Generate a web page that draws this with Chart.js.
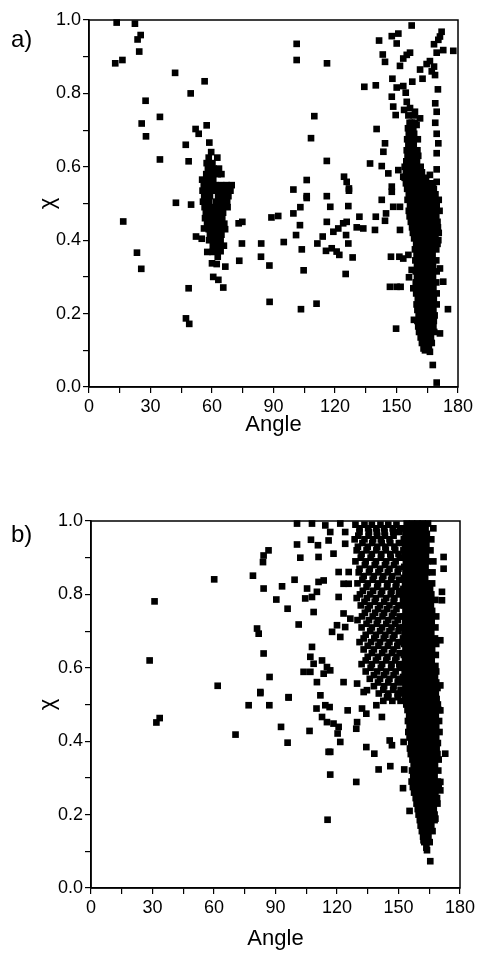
<!DOCTYPE html>
<html>
<head>
<meta charset="utf-8">
<script src="https://cdn.jsdelivr.net/npm/chart.js@4.4.1/dist/chart.umd.min.js"></script>
<style>
	body { margin: 0; background: #fff; width: 479px; height: 955px; position: relative; overflow: hidden; font-family: "Liberation Sans", Arial, sans-serif; }
	canvas { position: absolute; left: 0; }
	#chart-a { top: 0; }
	#chart-b { top: 477px; }
	.panel-label { position: absolute; left: 11px; font-size: 24px; line-height: 24px; color: #000; }
</style>
</head>
<body>
<canvas id="chart-a" width="479" height="470"></canvas>
<canvas id="chart-b" width="479" height="478"></canvas>
<div class="panel-label" style="top:27px">a)</div>
<div class="panel-label" style="top:522px">b)</div>
<script>

//axis ticks (major labels only, minor ticks in between)
var ANGLE_TICKS = [0, 30, 60, 90, 120, 150, 180];
var CHI_TICKS = [0.0, 0.2, 0.4, 0.6, 0.8, 1.0];

//panel a: isolated squares, [angle, chi]
var looseA = [
	[13.5,0.993],[22.4,0.99],[25.2,0.959],[23.7,0.947],[24.5,0.914],[12.8,0.882],[16.3,0.891],[42,0.856],[56.4,0.833],[49.6,0.80],
	[27.6,0.78],[34.6,0.736],[25.7,0.718],[57.4,0.713],[27.8,0.683],[52,0.703],[53.5,0.69],[47.2,0.66],[58.7,0.666],[34.6,0.62],[48.6,0.615],
	[42.4,0.502],[49.8,0.497],[16.7,0.451],[23.4,0.366],[25.5,0.322],[48.6,0.269],[47.3,0.187],[48.9,0.172],[52.2,0.41],[55,0.404],
	[56.1,0.432],[57.7,0.368],[60.3,0.368],[60,0.337],[62.3,0.335],[66.5,0.328],[60.6,0.30],[63.1,0.292],[65.5,0.271],
	[73,0.446],[74.8,0.45],[74.6,0.391],[73.3,0.344],[84,0.391],[83.9,0.355],[88,0.331],[89,0.462],[92.3,0.466],[88.1,0.232],[95,0.395],
	[99.7,0.473],[102.9,0.441],[103.1,0.49],[106.2,0.515],[101,0.414],[103.8,0.375],[104.7,0.318],[103.4,0.212],[111,0.227],[116,0.52],
	[117.7,0.491],[116,0.45],[114,0.41],[111.4,0.391],[115.6,0.371],[118.4,0.378],[120.8,0.369],[122.1,0.36],[119.2,0.423],[121.6,0.432],
	[124,0.446],[125.7,0.45],[126.5,0.493],[126.8,0.535],[126.5,0.391],[125.4,0.414],[128.6,0.353],[125.2,0.308],[131.9,0.464],[130.6,0.435],
	[133.8,0.432],[139.9,0.464],[139.5,0.428],[142.8,0.51],[144.9,0.473],[144.4,0.453],[148.4,0.491],[151.7,0.491],[147.7,0.532],[151.7,0.428],
	[147.3,0.355],[151.4,0.355],[153.3,0.35],[155.8,0.36],[146.8,0.273],[150.1,0.273],[152,0.273],[149.8,0.159],[157.4,0.319],[156.1,0.299],
	[158.2,0.269],[158.5,0.183],[163.9,0.10],[166.3,0.096],[167.7,0.06],[169.6,0.012],[175.1,0.212],[172.8,0.287],[171.2,0.323],[170.4,0.40],[171.2,0.146],
	[101.3,0.935],[101.3,0.891],[116.1,0.882],[109.9,0.738],[108.3,0.678],[116,0.616],[106.2,0.564],[99.7,0.538],[124.4,0.573],[125.7,0.559],
	[126.8,0.541],[106.2,0.52],[134.3,0.818],[139.9,0.822],[141.5,0.944],[147.7,0.956],[150.9,0.963],[150.1,0.936],[157.4,0.985],[143.3,0.906],
	[144.4,0.886],[153.3,0.895],[155,0.905],[156.6,0.911],[151.7,0.875],[172,0.968],[171.2,0.955],[170.4,0.946],[168.3,0.934],[169.6,0.911],
	[172.8,0.918],[177.7,0.916],[166.3,0.888],[164.7,0.88],[168.3,0.873],[167.2,0.86],[168.8,0.85],[161.5,0.865],[162.7,0.84],[148,0.84],
	[150.1,0.816],[153.3,0.82],[154.5,0.802],[157.7,0.832],[170.2,0.811],[147.7,0.791],[148.4,0.764],[149.6,0.741],[155,0.777],[153.7,0.755],
	[159,0.75],[168.9,0.773],[169.6,0.75],[168.9,0.72],[161.5,0.732],[157.4,0.72],[159.8,0.714],[140.3,0.703],[144.4,0.664],[143.6,0.641],
	[169.6,0.69],[170.4,0.664],[169.6,0.637],[137.1,0.609],[142.8,0.602],[146,0.582],[169.6,0.593],[166.3,0.578],[169.6,0.559],[168,0.538],
	[147.7,0.546],[150.9,0.591],[153.3,0.573]
];

//panel a: dense strip near 160-170 deg, one row per chi level
var stripChiA = [0.105,0.12,0.135,0.15,0.165,0.18,0.195,0.21,0.225,0.24,0.255,0.27,0.285,0.30,0.315,0.33,0.345,0.36,0.375,0.39,
	0.405,0.42,0.435,0.45,0.465,0.48,0.495,0.51,0.525,0.54,0.555,0.57,0.585,0.60,0.615,0.63,0.645,0.66,0.675,0.69,0.705,0.72,0.74,0.76];
var stripAngleA = [
	[163.2,165.8],[162.4,165,167.2],[161.8,164.3,166.8],[161,163.6,166.2,168.4],[160.6,163.2,165.8,168],
	[160.2,162.8,165.4,168.2],[160.8,163.4,166,168.6],[160.2,162.8,165.4,168],[159.8,162.4,165,167.6,169.6],[160.4,163,165.6,168.2],
	[159.6,162.2,164.8,167.4,169.6],[160.2,162.8,165.4,168],[159.4,162,164.6,167.2,169.4],[160,162.6,165.2,167.8],[159.4,162,164.6,167.2,169.6],
	[160,162.6,165.2,167.8],[159.2,161.8,164.4,167,169.4],[159.8,162.4,165,167.6],[159,161.6,164.2,166.8,169.4],[159.6,162.2,164.8,167.4,170],
	[158.6,161.2,163.8,166.4,169],[158,160.6,163.2,165.8,168.4,170.6],[157.6,160.2,162.8,165.4,168,170.2],[157,159.6,162.2,164.8,167.4,170],
	[156.4,159,161.6,164.2,166.8,169.4],[156,158.6,161.2,163.8,166.4,169,171],[156.6,159.2,161.8,164.4,167,169.6],
	[155.4,158,160.6,163.2,165.8,168.4,170.6],[156,158.6,161.2,163.8,166.4,169],[155.2,157.8,160.4,163,165.6,168.2],
	[154.6,157.2,159.8,162.4,165,167.6],[154,156.6,159.2,161.8,164.4],[154.6,157.2,159.8,162.4],[154,156.6,159.2,161.8],
	[154.8,157.4,160],[155.4,158,160.6],[155,157.6,160.2],[155.8,158.4],[155.2,157.8,160.4],[156,158.6],[155.6,158.2],[156.4,159],[155.8,158.4],[156.6]
];

//panel a: cluster near 60 deg
var clusterChiA = [0.64,0.625,0.61,0.595,0.58,0.565,0.55,0.535,0.52,0.505,0.49,0.475,0.46,0.445,0.43,0.415,0.40,0.385,0.37,0.355];
var clusterAngleA = [
	[59.6],[58.4,62.6],[57.4,60.2],[58,60.8,63.4],[57.2,60,62.8,64.6],[55.2,58,60.6],[56,58.8,61.6,64.4,67.2,69.6],
	[55.4,58.2,61,63.8,66.6,69],[56.2,59,63,65.8,68],[55.6,58.4,61.8,64.6,67.4],[56.4,59.2,62,64.8,67.6],[57,59.8,62.6,65.4],
	[56.6,59.4,62.2,65],[57.6,60.4,63.2,66],[58.4,61.2,64,66.4],[59,61.8,64.6],[58.6,61.4,64.2],[60.4,63.2,65.8],[61.4,64.2],[62.8]
];

//panel b: isolated squares, [angle, chi]
var looseB = [
	[60.1,0.841],[31,0.781],[28.6,0.62],[61.8,0.551],[31.9,0.451],[33.5,0.463],[70.5,0.418],
	[79,0.851],[84.2,0.816],[83.9,0.888],[86.6,0.92],[84.2,0.906],[90.4,0.786],[93.2,0.822],[95.9,0.761],[99.3,0.84],[101.3,0.718],
	[100.5,0.936],[102.1,0.90],[100.5,0.993],[107.8,0.993],[107.3,0.949],[110.7,0.934],[111,0.902],[114.3,0.988],[116.7,0.97],
	[115.9,0.947],[118.3,0.911],[121.6,0.993],[124,0.97],[124,0.938],
	[105.4,0.816],[104.5,0.789],[107.8,0.793],[110.2,0.807],[113.5,0.838],[111,0.834],[108.6,0.752],
	[120.8,0.861],[125.7,0.861],[120.8,0.793],[123.2,0.829],[125.7,0.829],
	[123.2,0.748],[120,0.716],[117.6,0.698],[121.6,0.684],[124,0.711],[126.5,0.734],
	[81,0.707],[81.8,0.693],[84.2,0.639],[87.1,0.575],[82.6,0.534],[96.4,0.52],
	[107.8,0.657],[107,0.63],[108.6,0.611],[112.7,0.62],[115.1,0.602],[116.7,0.593],[113.5,0.584],[110.2,0.561],[103.7,0.589],[107,0.589],
	[123.2,0.561],[129.8,0.557],[134.6,0.539],
	[172,0.902],[172,0.87],[171.2,0.807],[171.2,0.784],[170.4,0.675],[170.4,0.552],
	[76.9,0.498],[82.6,0.531],[87,0.498],[92.7,0.439],[95.9,0.396],[96.4,0.519],[106.6,0.428],
	[111.9,0.525],[110,0.489],[114.3,0.498],[116.4,0.493],[112.7,0.466],[115.1,0.452],[118.3,0.448],[120.8,0.439],[120.3,0.421],
	[121.6,0.398],[116.7,0.371],[115.9,0.371],[116.7,0.309],[115.4,0.186],
	[125.2,0.484],[129.8,0.452],[129.4,0.434],[129.4,0.289],[132.2,0.489],[134.3,0.475],[133,0.534],[134.3,0.384],[138.2,0.366],
	[140.3,0.323],[146,0.332],[139.2,0.498],[141.9,0.466],[144.4,0.52],[145.7,0.402],[146.8,0.389],[152.8,0.323],[152.5,0.398],
	[156.6,0.421],[152.2,0.272],[155.4,0.21],
	[172.8,0.366],[170.4,0.289],[170.4,0.266],[168,0.189],[162.2,0.13],[163.9,0.103],[165.5,0.073],[170.4,0.484]
];

//panel b: dense column 152-170 deg
var stripChiB = [0.11,0.125,0.14,0.155,0.17,0.185,0.20,0.215,0.23,0.245,0.26,0.275,0.29,0.305,0.32,0.335,0.35,0.365,0.38,0.395,
	0.41,0.425,0.44,0.455,0.47,0.485,0.50,0.515,0.53,0.545,0.56,0.575,0.59,0.605,0.62,0.635,0.65,0.665,0.68,0.695,
	0.71,0.725,0.74,0.755,0.77,0.785,0.80,0.815,0.83,0.845,0.86,0.875,0.89,0.905,0.92,0.935,0.95,0.965,0.98,0.993];
var stripAngleB = [
	[163.6],[162.6,165.2],[162,164.6],[161.4,164,166.6],[160.8,163.4,166],[160.4,163,165.6,167.6],[159.8,162.4,165,167.6],
	[159.4,162,164.6,167.2],[158.8,161.4,164,166.6,169],[158.4,161,163.6,166.2,168.8],[157.6,160.2,162.8,165.4,168],
	[157,159.6,162.2,164.8,167.4,169.6],[156.4,159,161.6,164.2,166.8,169.2],[157.2,159.8,162.4,165,167.6],
	[156.6,159.2,161.8,164.4,167,169.4],[157.4,160,162.6,165.2,167.8],[156.8,159.4,162,164.6,167.2,169.6],
	[156,158.6,161.2,163.8,166.4,169],[155.6,158.2,160.8,163.4,166,168.6],[156.2,158.8,161.4,164,166.6,169.2],
	[155.4,158,160.6,163.2,165.8,168.4],[154.8,157.4,160,162.6,165.2,167.8,170],[155.4,158,160.6,163.2,165.8,168.4],
	[154.6,157.2,159.8,162.4,165,167.6,169.8],[155.2,157.8,160.4,163,165.6,168.2],[154.4,157,159.6,162.2,164.8,167.4,169.6],
	[153.8,156.4,159,161.6,164.2,166.8,169.2],[153.2,155.8,158.4,161,163.6,166.2,168.6],[152.6,155.2,157.8,160.4,163,165.6,168.2],
	[153.4,156,158.6,161.2,163.8,166.4,169],[152.8,155.4,158,160.6,163.2,165.8,168.4],[152.2,154.8,157.4,160,162.6,165.2,167.8],
	[153,155.6,158.2,160.8,163.4,166,168.4],[152.4,155,157.6,160.2,162.8,165.4,168],[153.2,155.8,158.4,161,163.6,166.2],
	[152.6,155.2,157.8,160.4,163,165.6,168.2],[153.4,156,158.6,161.2,163.8,166.4],[152.8,155.4,158,160.6,163.2,165.8,168.4],
	[152.2,154.8,157.4,160,162.6,165.2,167.8],[153,155.6,158.2,160.8,163.4,166],[152.4,155,157.6,160.2,162.8,165.4,168],
	[153.2,155.8,158.4,161,163.6,166.2],[152.6,155.2,157.8,160.4,163,165.6,168.4],[153.4,156,158.6,161.2,163.8,166.4],
	[152.8,155.4,158,160.6,163.2,165.8],[152.2,154.8,157.4,160,162.6,165.2,168],[153,155.6,158.2,160.8,163.4,166],
	[152.4,155,157.6,160.2,162.8,165.4],[153.2,155.8,158.4,161,163.6,166.4],[152.6,155.2,157.8,160.4,163],
	[153.4,156,158.6,161.2,163.8,166.6],[152.8,155.4,158,160.6,163.2],[153.6,156.2,158.8,161.4,164,167],
	[153,155.6,158.2,160.8,163.4],[152.4,155,157.6,160.2,162.8,165.6],[153.2,155.8,158.4,161,163.6],
	[152.6,155.2,157.8,160.4,163,166],[153.4,156,158.6,161.2,163.8],[152.8,155.4,158,160.6,163.2,167],[154,156.6,159.2,161.8,164.4]
];

//panel b: scattered band 128-152 deg, upper half (two interleaved sets of rows)
var bandChiB = [0.99,0.97,0.95,0.93,0.91,0.89,0.87,0.85,0.83,0.81,0.79,0.77,0.75,0.73,0.71,0.69,0.67,0.65,0.63,0.61,0.59,0.57,0.55,0.53,0.51];
var bandAngleB = [
	[129,133.4,137,141.2,145,149],[131,135.6,139.4,143.2,147.4,150.4],[128.6,133.4,137.6,141.4,145.6],[130.2,135,139.6,143.6,148],
	[132,137,141.6,146,150],[129,134,139,144,148.6],[131,136,141,145.6,150],[133,138,142.6,147],[130,135,140,144.6,149],
	[132.6,137.6,142,146.6,150.4],[129.6,134.6,139,144,148],[131.6,136,141,145.6,150],[133.6,138.6,143,147.6],
	[130,135.6,140,145,149.6],[132,137,142,146.6,150.4],[134,139,143.6,148],[131,136.6,141,145.6,150],[133,138,143,147.6],
	[135,140,144.6,149],[132,137,142,146.6,150.4],[134,139.6,144,148.6],[136,141,145.6,150],[138,143,147.6],[140.4,145,149.6],[142.6,147,151]
];
var bandChiB2 = [0.98,0.96,0.94,0.92,0.90,0.88,0.86,0.84,0.82,0.80,0.78,0.76,0.74,0.72,0.70,0.68,0.66,0.64,0.62,0.60,0.58,0.56,0.54,0.52];
var bandAngleB2 = [
	[131,135.2,139.2,143,147.2,150.8],[130.4,135.4,139.6,143.4,147.6],[132.4,137.2,141.8,146,150.2],[129.6,134.4,139.2,143.8,148.4],
	[131.6,136.4,141.4,146.2,150.6],[133.6,138.4,143.4,147.8],[130.6,135.6,140.2,144.8,149.6],[132.4,137.4,142,146.4,150.4],
	[134.4,139.6,144.4,148.6],[131.2,136.2,141.4,146.2,150.2],[133.4,138.4,143,147.6],[135,140,144.4,149],
	[132.2,137.4,142.2,146.8,150.6],[134.4,139.4,144,148.4],[136.2,141,145.6,150],[133,138.2,142.8,147.2],
	[135,140.2,144.8,149.4],[137,142,146.8,150.6],[134,139,144,148.4],[136.4,141.4,146.4,150.6],[138,143,147.6],[140,145,149.6],
	[142.6,147.4,151],[145,149.6]
];

//draws the closed frame round the plot area
var framePlugin = {
	id: 'frame',
	afterDraw: function( chart ) {
		var area = chart.chartArea,
			ctx = chart.ctx;
		ctx.save();
		ctx.strokeStyle = '#000';
		ctx.lineWidth = 1.5;
		ctx.strokeRect(area.left, area.top, area.right - area.left, area.bottom - area.top);
		ctx.restore();
	}
};

function addRows( points, chiRows, angleRows ) {
	for ( var r = 0; r < chiRows.length; r++ ) {
		for ( var k = 0; k < angleRows[r].length; k++ ) {
			points.push({ x: angleRows[r][k], y: chiRows[r] });
		}
	}
}

function toPoints( loose ) {
	var points = [];
	for ( var n = 0; n < loose.length; n++ ) {
		points.push({ x: loose[n][0], y: loose[n][1] });
	}
	return points;
}

function buildPanel( canvasId, points, box ) {
	var tickFont = { family: '"Liberation Sans", Arial, sans-serif', size: 18 };
	var titleFont = { family: '"Liberation Sans", Arial, sans-serif', size: 22 };

	return new Chart(document.getElementById(canvasId).getContext('2d'), {
		type: 'scatter',
		data: {
			datasets: [{
				data: points,
				pointStyle: 'rect',
				pointRadius: 4.7,
				pointBorderWidth: 0,
				backgroundColor: '#000',
				borderColor: '#000',
				clip: false
			}]
		},
		options: {
			responsive: false,
			animation: false,
			devicePixelRatio: 1,
			layout: { padding: { left: 0, top: box.top, right: box.right, bottom: 0 } },
			plugins: { legend: { display: false }, tooltip: { enabled: false } },
			scales: {
				x: {
					type: 'linear', min: 0, max: 180,
					afterFit: function( scale ) { scale.height = box.xHeight; },
					ticks: {
						stepSize: 15, autoSkip: false, maxRotation: 0, padding: 3, color: '#000', font: tickFont,
						callback: function( value ) { return ANGLE_TICKS.indexOf(value) >= 0 ? String(value) : ''; }
					},
					grid: { drawOnChartArea: false, color: '#000', tickLength: 6, lineWidth: 1.2 },
					border: { color: '#000', width: 1.5 },
					title: { display: true, text: 'Angle', color: '#000', font: titleFont, padding: { top: 0, bottom: box.titleBottom } }
				},
				y: {
					type: 'linear', min: 0, max: 1,
					afterFit: function( scale ) { scale.width = box.left; },
					ticks: {
						stepSize: 0.1, autoSkip: false, padding: 2, color: '#000', font: tickFont,
						callback: function( value ) {
							var t = Math.round(value * 10) / 10;
							return CHI_TICKS.indexOf(t) >= 0 ? t.toFixed(1) : '';
						}
					},
					grid: { drawOnChartArea: false, color: '#000', tickLength: 6, lineWidth: 1.2 },
					border: { color: '#000', width: 1.5 },
					title: { display: true, text: 'χ', color: '#000', font: titleFont, padding: { top: 35, bottom: 0 } }
				}
			}
		},
		plugins: [framePlugin]
	});
}

//building chart a
var pointsA = toPoints(looseA);
addRows(pointsA, stripChiA, stripAngleA);
addRows(pointsA, clusterChiA, clusterAngleA);
buildPanel('chart-a', pointsA, { left: 89, top: 20, right: 21, xHeight: 83, titleBottom: 32 });

//building chart b
var pointsB = toPoints(looseB);
addRows(pointsB, stripChiB, stripAngleB);
addRows(pointsB, bandChiB, bandAngleB);
addRows(pointsB, bandChiB2, bandAngleB2);
buildPanel('chart-b', pointsB, { left: 91, top: 44, right: 19, xHeight: 67, titleBottom: 3 });

</script>
</body>
</html>
